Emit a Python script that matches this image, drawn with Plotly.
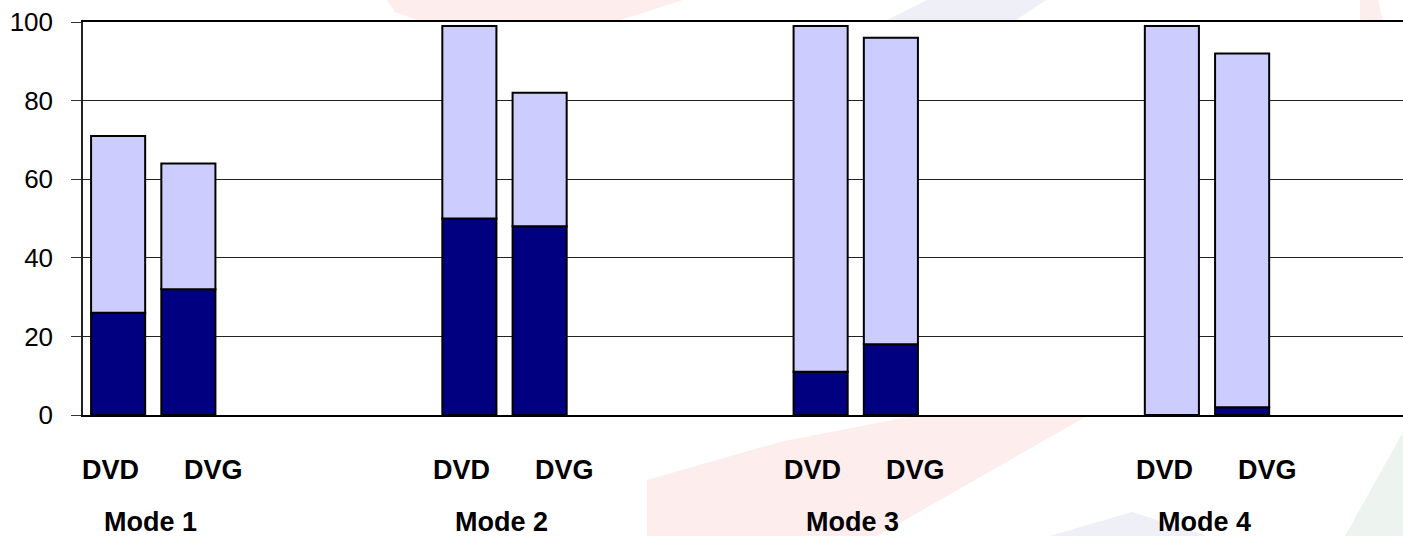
import plotly.graph_objects as go

# Data: share (%) per mode, two measures per mode, stacked in two parts
modes = ["Mode 1", "Mode 2", "Mode 3", "Mode 4"]
measures = ["DVD", "DVG"]
dark_part = {"DVD": [26, 50, 11, 0], "DVG": [32, 48, 18, 2]}
total = {"DVD": [71, 99, 99, 99], "DVG": [64, 82, 96, 92]}
y_ticks = [0, 20, 40, 60, 80, 100]

NAVY = "#000080"
LAVENDER = "#CCCCFF"

# Layout geometry (pixels)
W, H = 1403, 536
L, T, B, R = 83, 22, 121, 0
PW, PH = W - L - R, H - T - B
SLOTS_PER_MODE = 5
SLOT_PX = 70.25
BAR_W = 0.77

def px_x(px):
    return (px - L) / PW

def px_y(py):
    return (H - B - py) / PH

fig = go.Figure()

for j, m in enumerate(measures):
    xs = [i * SLOTS_PER_MODE + j + 0.5 for i in range(len(modes))]
    light = [t - d for t, d in zip(total[m], dark_part[m])]
    fig.add_trace(go.Bar(
        x=xs, y=dark_part[m], width=BAR_W, name=m,
        marker=dict(color=NAVY, line=dict(color="black", width=2)),
        showlegend=False, hoverinfo="skip",
    ))
    fig.add_trace(go.Bar(
        x=xs, y=light, base=dark_part[m], width=BAR_W, name=m,
        marker=dict(color=LAVENDER, line=dict(color="black", width=2)),
        showlegend=False, hoverinfo="skip",
    ))

# Category labels under the bars
annotations = []
label_font = dict(family="Liberation Sans, Arial, sans-serif", size=27, color="black")
for i, mode in enumerate(modes):
    x0 = i * SLOTS_PER_MODE + 0.39
    for j, m in enumerate(measures):
        annotations.append(dict(
            x=x0 + j * 1.467, y=px_y(470), xref="x", yref="paper",
            text=f"<b>{m}</b>", showarrow=False, font=label_font,
            xanchor="center", yanchor="middle",
        ))
    annotations.append(dict(
        x=x0 + 0.57, y=px_y(522), xref="x", yref="paper",
        text=f"<b>{mode}</b>", showarrow=False, font=label_font,
        xanchor="center", yanchor="middle",
    ))

# Faint background decoration around the plot area
def poly(points, color):
    path = "M " + " L ".join(f"{px_x(x):.5f},{px_y(y):.5f}" for x, y in points) + " Z"
    return dict(type="path", path=path, xref="paper", yref="paper",
                fillcolor=color, line=dict(width=0), layer="below")

shapes = [
    poly([(387, 0), (683, 0), (617, 21), (420, 21), (395, 12)], "#FDEDED"),
    poly([(927, 0), (1046, 0), (1015, 21), (885, 21)], "#EEEFF7"),
    poly([(1360, 0), (1378, 0), (1383, 21), (1360, 21)], "#FDEEEE"),
    poly([(647, 536), (647, 480), (780, 442), (913, 416), (1087, 416), (877, 536)], "#FDEDED"),
    poly([(1050, 536), (1132, 512), (1207, 536)], "#EEEFF7"),
    poly([(1403, 432), (1403, 536), (1345, 536)], "#EDF4EF"),
]

fig.update_layout(
    width=W, height=H,
    margin=dict(l=L, r=R, t=T, b=B, pad=0),
    paper_bgcolor="white", plot_bgcolor="white",
    barmode="overlay",
    annotations=annotations,
    shapes=shapes,
    font=dict(family="Liberation Sans, Arial, sans-serif", color="black"),
)

fig.update_xaxes(
    range=[0, PW / SLOT_PX],
    showticklabels=False, ticks="", showgrid=False, zeroline=False,
    showline=True, linecolor="black", linewidth=2, mirror=True,
)
fig.update_yaxes(
    range=[0, 100], tickvals=y_ticks,
    ticks="outside", ticklen=10, tickcolor="#333", tickwidth=1,
    ticklabelstandoff=13,
    tickfont=dict(size=26, color="black"),
    showgrid=True, gridcolor="#222", gridwidth=1, zeroline=False,
    showline=True, linecolor="#222", linewidth=1.5,
)

fig.write_html("out.html")
